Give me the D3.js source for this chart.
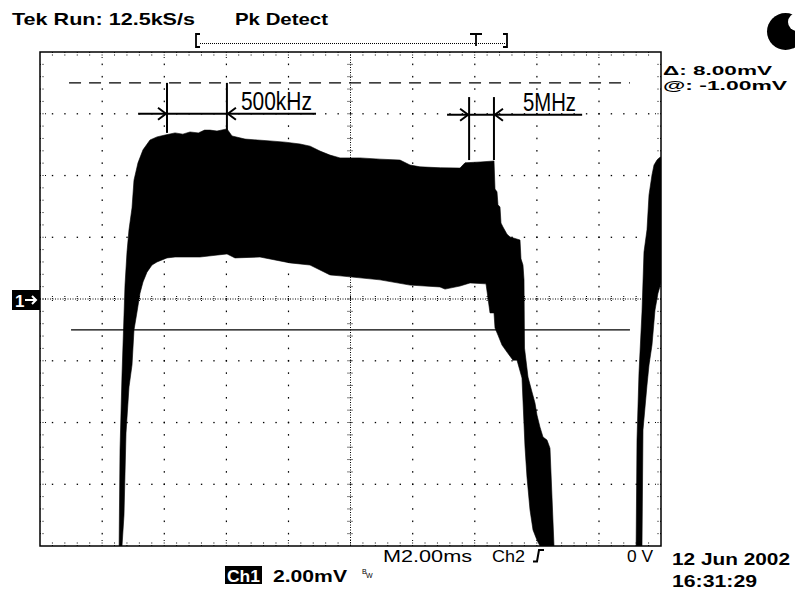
<!DOCTYPE html>
<html><head><meta charset="utf-8">
<script src="https://cdn.jsdelivr.net/npm/d3@7"></script>
<style>body{margin:0;background:#fff}svg{display:block}</style>
</head><body>
<svg id="c" width="795" height="592"></svg>
<script>
// ---- data (time in ms, 2 ms/div; voltage in mV, 2 mV/div) ----
const timeDomain = [0, 20];
const voltDomain = [-8, 8];
const majorTimeTicks = [0, 2, 4, 6, 8, 10, 12, 14, 16, 18, 20];
const majorVoltTicks = [-8, -6, -4, -2, 0, 2, 4, 6, 8];

// burst 1: upper envelope
const upper1 = [[2.544,-8.45],[2.577,-4.89],[2.641,-2.46],[2.738,0.45],[2.802,1.52],[2.866,2.24],[2.963,2.95],[3.027,3.85],[3.156,4.41],[3.317,4.83],[3.543,5.15],[3.768,5.25],[4.026,5.31],[4.348,5.38],[4.60,5.34],[4.831,5.41],[5.10,5.38],[5.30,5.47],[5.475,5.47],[5.70,5.44],[6.023,5.51],[6.184,5.28],[6.602,5.18],[7.0,5.15],[7.407,5.12],[7.9,5.08],[8.374,5.02],[8.70,4.95],[9.018,4.79],[9.340,4.66],[9.662,4.57],[10.3,4.57],[10.950,4.53],[11.594,4.50],[11.916,4.34],[12.238,4.28],[12.9,4.25],[13.527,4.24],[13.688,4.41],[14.2,4.44],[14.622,4.47],[14.654,3.56],[14.718,3.47],[14.750,3.05],[14.815,2.98],[14.847,2.46],[14.911,2.33],[15.040,2.10],[15.137,2.01],[15.459,1.91],[15.491,1.30],[15.555,1.10],[15.588,0.62],[15.604,-1.59],[15.717,-2.53],[15.845,-3.01],[15.942,-3.37],[16.006,-3.76],[16.103,-4.15],[16.200,-4.47],[16.329,-4.57],[16.425,-4.83],[16.554,-8.0],[16.586,-8.45]];
// burst 1: lower envelope
const lower1 = [[2.544,-8.45],[2.641,-8.0],[2.705,-7.0],[2.770,-4.34],[2.866,-2.85],[2.963,-2.14],[3.027,-1.0],[3.124,-0.42],[3.221,0.19],[3.317,0.55],[3.446,0.87],[3.607,1.10],[3.768,1.20],[4.090,1.33],[4.348,1.36],[5.153,1.36],[6.023,1.46],[6.280,1.33],[7.085,1.36],[8.052,1.17],[8.696,1.10],[9.018,0.94],[9.340,0.78],[9.662,0.75],[10.950,0.62],[11.916,0.45],[12.882,0.39],[13.043,0.32],[13.527,0.42],[13.849,0.52],[14.364,0.49],[14.493,-0.45],[14.622,-0.45],[14.654,-0.94],[14.750,-1.17],[14.879,-1.49],[15.040,-1.72],[15.233,-1.98],[15.362,-1.98],[15.523,-2.56],[15.620,-4.79],[15.684,-5.77],[15.781,-6.83],[15.878,-7.48],[16.006,-7.81],[16.103,-8.0],[16.200,-8.45],[16.586,-8.45]];
// burst 2 (start of next sweep): upper / lower envelope
const upper2 = [[19.195,-8.45],[19.227,-4.57],[19.291,-2.40],[19.388,-0.42],[19.452,1.52],[19.549,2.24],[19.614,3.37],[19.710,4.02],[19.775,4.34],[19.871,4.50],[19.936,4.57],[20.0,4.60]];
const lower2 = [[19.195,-8.45],[19.388,-8.0],[19.420,-4.24],[19.549,-2.79],[19.614,-2.14],[19.710,-1.49],[19.807,-0.36],[19.903,0.19],[20.0,0.52]];

// cursors (mV) and their time extent (ms)
const cursorLevels = [7.0, -1.0];
const cursorExtent = [1.0, 19.0];
// frequency markers
const markerLabels = ["500kHz", "5MHz"];
const markerTimes = [[4.09, 6.02], [13.82, 14.62]];
const markerLineV = [6.0, 5.97];
const markerTopV = [7.0, 6.54];
const markerBottomV = [[5.38, 5.47], [4.50, 4.50]];
const markerLineSpan = [[3.16, 8.89], [13.11, 17.46]];

// ---- drawing ----
const svg = d3.select('#c');
const x = d3.scaleLinear().domain(timeDomain).range([40, 661]);
const y = d3.scaleLinear().domain(voltDomain).range([546, 52]);
const X0 = x(0), X1 = x(20), Y0 = y(8), Y1 = y(-8);

svg.append('rect').attr('width', 795).attr('height', 592).attr('fill', '#fff');
svg.append('defs').append('clipPath').attr('id', 'plot')
  .append('rect').attr('x', X0).attr('y', Y0).attr('width', X1 - X0).attr('height', Y1 - Y0);

const g = svg.append('g');
const minorT = d3.range(0, 20.0001, 0.4);
const minorV = d3.range(-8, 8.0001, 0.4);
const isMajor = (v, step) => Math.abs(v / step - Math.round(v / step)) < 1e-6;

// grid dots on major lines
majorTimeTicks.filter(t => t > 0 && t < 20 && t !== 10).forEach(t => {
  minorV.slice(1, -1).forEach(v => {
    g.append('rect').attr('x', x(t) - 0.5).attr('y', y(v) - 0.8).attr('width', 1.2).attr('height', 1.6).attr('fill', '#000');
  });
});
majorVoltTicks.filter(v => v > -8 && v < 8 && v !== 0).forEach(v => {
  minorT.slice(1, -1).forEach(t => {
    g.append('rect').attr('x', x(t) - 0.6).attr('y', y(v) - 0.6).attr('width', 1.4).attr('height', 1.3).attr('fill', '#000');
  });
});
// centre cross
g.append('line').attr('x1', X0).attr('x2', X1).attr('y1', y(0)).attr('y2', y(0))
  .attr('stroke', '#000').attr('stroke-width', 1).attr('stroke-dasharray', '1,1.5');
g.append('line').attr('x1', x(10)).attr('x2', x(10)).attr('y1', Y0).attr('y2', Y1)
  .attr('stroke', '#000').attr('stroke-width', 1).attr('stroke-dasharray', '1,1.5');
minorT.slice(1, -1).forEach(t => {
  g.append('line').attr('x1', x(t)).attr('x2', x(t)).attr('y1', y(0) - 3).attr('y2', y(0) + 3)
    .attr('stroke', '#000').attr('stroke-width', 1).attr('stroke-dasharray', '1,1');
});
minorV.slice(1, -1).forEach(v => {
  g.append('line').attr('x1', x(10) - 3).attr('x2', x(10) + 3).attr('y1', y(v)).attr('y2', y(v))
    .attr('stroke', '#000').attr('stroke-width', 1).attr('stroke-dasharray', '1,1');
});
// border ticks
minorT.slice(1, -1).forEach(t => {
  const L = isMajor(t, 2) ? 7 : 4;
  g.append('line').attr('x1', x(t)).attr('x2', x(t)).attr('y1', Y0).attr('y2', Y0 + L)
    .attr('stroke', '#000').attr('stroke-dasharray', '1,1.5');
  g.append('line').attr('x1', x(t)).attr('x2', x(t)).attr('y1', Y1).attr('y2', Y1 - L)
    .attr('stroke', '#000').attr('stroke-dasharray', '1,1.5');
});
minorV.slice(1, -1).forEach(v => {
  const L = isMajor(v, 2) ? 7 : 4;
  g.append('line').attr('x1', X0).attr('x2', X0 + L).attr('y1', y(v)).attr('y2', y(v))
    .attr('stroke', '#000').attr('stroke-dasharray', '1,1.5');
  g.append('line').attr('x1', X1).attr('x2', X1 - L).attr('y1', y(v)).attr('y2', y(v))
    .attr('stroke', '#000').attr('stroke-dasharray', '1,1.5');
});

// waveform envelope
const line = d3.line().x(d => x(d[0])).y(d => y(d[1]));
const plot = svg.append('g').attr('clip-path', 'url(#plot)');
[[upper1, lower1], [upper2, lower2]].forEach(([u, l]) => {
  plot.append('path').attr('d', line(u.concat(l.slice().reverse())) + 'Z')
    .attr('fill', '#000').attr('stroke', '#000').attr('stroke-width', 0.6).attr('stroke-linejoin', 'round');
});

// cursors
plot.append('line').attr('x1', x(cursorExtent[0]) - 2).attr('x2', x(cursorExtent[1]))
  .attr('y1', y(cursorLevels[0])).attr('y2', y(cursorLevels[0]))
  .attr('stroke', '#000').attr('stroke-width', 1.3).attr('stroke-dasharray', '12,8');
plot.append('line').attr('x1', x(cursorExtent[0])).attr('x2', x(cursorExtent[1]))
  .attr('y1', y(cursorLevels[1])).attr('y2', y(cursorLevels[1]))
  .attr('stroke', '#000').attr('stroke-width', 1.3);

// frequency markers
markerLabels.forEach((lab, i) => {
  const [t1, t2] = markerTimes[i];
  const ly = y(markerLineV[i]);
  const mg = svg.append('g').attr('stroke', '#000').attr('stroke-width', 2).attr('fill', 'none');
  mg.append('line').attr('x1', x(t1)).attr('x2', x(t1)).attr('y1', y(markerTopV[i])).attr('y2', y(markerBottomV[i][0]));
  mg.append('line').attr('x1', x(t2)).attr('x2', x(t2)).attr('y1', y(markerTopV[i])).attr('y2', y(markerBottomV[i][1]));
  mg.append('line').attr('x1', x(markerLineSpan[i][0])).attr('x2', x(markerLineSpan[i][1])).attr('y1', ly).attr('y2', ly);
  mg.append('path').attr('d', `M${x(t1) - 9},${ly - 6}L${x(t1) - 1},${ly}L${x(t1) - 9},${ly + 6}`);
  mg.append('path').attr('d', `M${x(t2) + 9},${ly - 6}L${x(t2) + 1},${ly}L${x(t2) + 9},${ly + 6}`);
  const tx = x(t2) + (i === 0 ? 14 : 29);
  svg.append('text').attr('x', tx).attr('y', ly - 4).text(lab)
    .attr('font-family', 'Liberation Sans, Arial, sans-serif').attr('font-size', 25)
    .attr('textLength', i === 0 ? 71 : 53).attr('lengthAdjust', 'spacingAndGlyphs').attr('fill', '#000');
});

// border
svg.append('rect').attr('x', X0).attr('y', Y0).attr('width', X1 - X0).attr('height', Y1 - Y0)
  .attr('fill', 'none').attr('stroke', '#000').attr('stroke-width', 1.5);

// ---- texts ----
const font = 'Liberation Sans, Arial, sans-serif';
function txt(s, tx, ty, size, len, opts = {}) {
  const t = svg.append('text').attr('x', tx).attr('y', ty).text(s)
    .attr('font-family', opts.family || font).attr('font-size', size)
    .attr('font-weight', opts.weight || 'bold').attr('fill', opts.fill || '#000');
  if (len) t.attr('textLength', len).attr('lengthAdjust', 'spacingAndGlyphs');
  return t;
}
txt('Tek Run: 12.5kS/s', 12, 25, 17, 183);
txt('Pk Detect', 235, 25, 17, 93);
// record bar
svg.append('path').attr('d', 'M200,34H196V47H200M503,34H507V47H503M470,34H482M476,34V46')
  .attr('stroke', '#000').attr('stroke-width', 1.8).attr('fill', 'none');
svg.append('line').attr('x1', 200).attr('x2', 505).attr('y1', 43.5).attr('y2', 43.5)
  .attr('stroke', '#000').attr('stroke-width', 1).attr('stroke-dasharray', '1,1');
// logo
svg.append('circle').attr('cx', 785.5).attr('cy', 31.5).attr('r', 18.5).attr('fill', '#000');
svg.append('circle').attr('cx', 797).attr('cy', 22).attr('r', 9).attr('fill', '#fff');
// readouts
txt('Δ: 8.00mV', 663, 75, 13, 109);
txt('@: -1.00mV', 663, 89.5, 13, 124);
// ground marker
svg.append('rect').attr('x', 12).attr('y', 290).attr('width', 28).attr('height', 20).attr('fill', '#000');
txt('1', 15, 307, 17, null, { fill: '#fff' });
svg.append('path').attr('d', 'M25,300H36M32,296L36,300L32,304').attr('stroke', '#fff').attr('stroke-width', 2).attr('fill', 'none');
// bottom readouts
txt('M2.00ms', 383, 562, 16, 89, { weight: 'normal' });
txt('Ch2', 492, 562, 16, 33, { weight: 'normal' });
svg.append('path').attr('d', 'M533,561.5H537L539,550H544').attr('stroke', '#000').attr('stroke-width', 2).attr('fill', 'none');
txt('0 V', 627, 562, 16, 26, { weight: 'normal' });
svg.append('rect').attr('x', 225).attr('y', 566).attr('width', 37).attr('height', 18).attr('fill', '#000');
txt('Ch1', 227, 582, 16, 33, { fill: '#fff' });
txt('2.00mV', 273, 582, 16, 74);
txt('B', 362, 574, 7, null, { weight: 'normal' });
txt('W', 366, 578, 7, null, { weight: 'normal' });
txt('12 Jun 2002', 672, 565, 16, 118);
txt('16:31:29', 672, 587, 16, 85);
</script>
</body></html>
